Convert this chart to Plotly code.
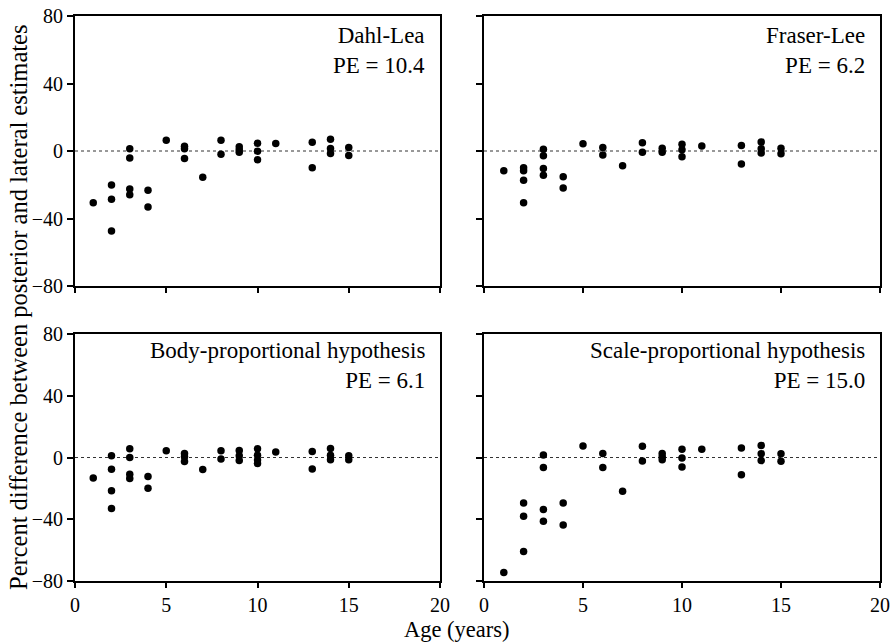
import plotly.graph_objects as go

# Age (years) and percent difference for each back-calculation method
ages_dahl = [1, 2, 2, 2, 3, 3, 3, 3, 4, 4, 5, 6, 6, 6, 7, 8, 8, 9, 9, 9,
             10, 10, 10, 11, 13, 13, 14, 14, 14, 15, 15]
diff_dahl = [-30.6, -20.1, -28.6, -47.4, 1.4, -4.1, -22.5, -26.0, -23.3, -33.2,
             6.4, 2.8, 1.4, -4.4, -15.5, 6.3, -1.9, 2.5, 0.8, -0.8,
             4.6, -0.1, -5.2, 4.4, 5.2, -10.0, 6.9, 1.5, -1.5, 2.1, -2.7]

ages_fraser = [1, 2, 2, 2, 2, 3, 3, 3, 3, 4, 4, 5, 6, 6, 7, 8, 8, 9, 9,
               10, 10, 10, 11, 13, 13, 14, 14, 14, 15, 15]
diff_fraser = [-11.7, -9.9, -11.7, -17.4, -30.6, 1.0, -2.8, -10.3, -14.4, -15.2,
               -21.9, 4.3, 2.0, -2.4, -8.7, 4.9, -0.8, 1.6, -0.8,
               4.0, 0.8, -3.4, 3.0, 3.2, -7.7, 5.4, 1.4, -1.2, 1.6, -1.6]

ages_body = [1, 2, 2, 2, 2, 3, 3, 3, 3, 4, 4, 5, 6, 6, 6, 7, 8, 8, 9, 9, 9,
             10, 10, 10, 10, 11, 13, 13, 14, 14, 14, 15, 15]
diff_body = [-13.2, 1.1, -7.6, -21.6, -33.0, 5.6, 0.0, -10.8, -13.6, -12.3,
             -19.9, 4.4, 2.6, 0.5, -2.6, -7.7, 4.3, -0.9, 4.5, 1.1, -1.9,
             5.6, 1.5, -1.7, -3.9, 3.5, 3.9, -7.4, 5.8, 1.5, -1.5, 1.1, -1.5]

ages_scale = [1, 2, 2, 2, 3, 3, 3, 3, 4, 4, 5, 6, 6, 7, 8, 8, 9, 9, 9,
              10, 10, 10, 11, 13, 13, 14, 14, 14, 15, 15]
diff_scale = [-74.5, -29.4, -38.0, -60.9, 1.7, -6.5, -33.7, -41.3, -29.4, -43.8,
              7.4, 2.6, -6.5, -21.8, 7.3, -2.3, 2.6, 0.5, -1.5,
              5.3, -0.3, -6.1, 5.4, 6.2, -11.2, 7.8, 2.4, -2.0, 2.5, -2.5]

method_names = ["Dahl-Lea", "Fraser-Lee", "Body-proportional hypothesis",
                "Scale-proportional hypothesis"]
pe_values = [10.4, 6.2, 6.1, 15.0]

x_ticks = [0, 5, 10, 15, 20]
y_ticks = [-80, -40, 0, 40, 80]

W, H = 890, 642
FONT = "'Liberation Serif', 'Times New Roman', Tinos, 'DejaVu Serif', serif"

panels = [
    (ages_dahl, diff_dahl),
    (ages_fraser, diff_fraser),
    (ages_body, diff_body),
    (ages_scale, diff_scale),
]

# panel boxes in pixels: (left, right, top, bottom)
boxes = [
    (75, 440, 16, 286),
    (484, 880, 16, 286),
    (75, 440, 334, 581),
    (484, 880, 334, 581),
]
label_yshift = [-5, -5, -2, -2]

fig = go.Figure()
layout = dict(
    width=W, height=H,
    margin=dict(l=0, r=0, t=0, b=0, pad=0),
    paper_bgcolor="white", plot_bgcolor="white",
    showlegend=False,
    template="none",
    font=dict(family=FONT, color="black", size=20),
)

annotations = []
shapes = []
for i, ((ages, diffs), (l, r, t, b)) in enumerate(zip(panels, boxes)):
    n = i + 1
    sfx = "" if n == 1 else str(n)
    fig.add_trace(go.Scatter(
        x=ages, y=diffs, mode="markers",
        marker=dict(size=7.5, color="black", line=dict(width=0)),
        xaxis=f"x{sfx}", yaxis=f"y{sfx}", hoverinfo="skip",
    ))
    left_col = n in (1, 3)
    bottom_row = n in (3, 4)
    layout[f"xaxis{sfx}"] = dict(
        domain=[l / W, r / W], anchor=f"y{sfx}", range=[0, 20],
        tickvals=x_ticks, showticklabels=bottom_row,
        ticks="outside", ticklen=5, tickwidth=1.5, tickcolor="black",
        showline=True, linecolor="black", linewidth=2, mirror=True,
        showgrid=False, zeroline=False,
        tickfont=dict(family=FONT, size=20, color="black"),
    )
    layout[f"yaxis{sfx}"] = dict(
        domain=[1 - b / H, 1 - t / H], anchor=f"x{sfx}", range=[-80, 80],
        tickvals=y_ticks, showticklabels=left_col,
        ticks="outside", ticklen=6, tickwidth=1.5, tickcolor="black",
        showline=True, linecolor="black", linewidth=2, mirror=True,
        showgrid=False, zeroline=False,
        tickfont=dict(family=FONT, size=20, color="black"),
    )
    # dashed reference line at zero difference
    shapes.append(dict(
        type="line", xref=f"x{sfx} domain", yref=f"y{sfx}",
        x0=0, x1=1, y0=0, y1=0,
        line=dict(color="#333333", width=1, dash="3px,3px"),
        layer="below",
    ))
    annotations.append(dict(
        xref=f"x{sfx} domain", yref=f"y{sfx} domain",
        x=1, y=1, xanchor="right", yanchor="top", align="right",
        xshift=-13, yshift=label_yshift[i], showarrow=False,
        text=f"{method_names[i]}<br>PE = {pe_values[i]:.1f}",
        font=dict(family=FONT, size=23, color="black"),
    ))

annotations.append(dict(
    xref="paper", yref="paper", x=457 / W, y=1 - 629 / H,
    xanchor="center", yanchor="middle", showarrow=False,
    text="Age (years)", font=dict(family=FONT, size=22.5, color="black"),
))
annotations.append(dict(
    xref="paper", yref="paper", x=18 / W, y=1 - 307 / H,
    xanchor="center", yanchor="middle", showarrow=False, textangle=-90,
    text="Percent difference between posterior and lateral estimates",
    font=dict(family=FONT, size=24.5, color="black"),
))

layout["annotations"] = annotations
layout["shapes"] = shapes
fig.update_layout(**layout)
fig.write_html("out.html")
